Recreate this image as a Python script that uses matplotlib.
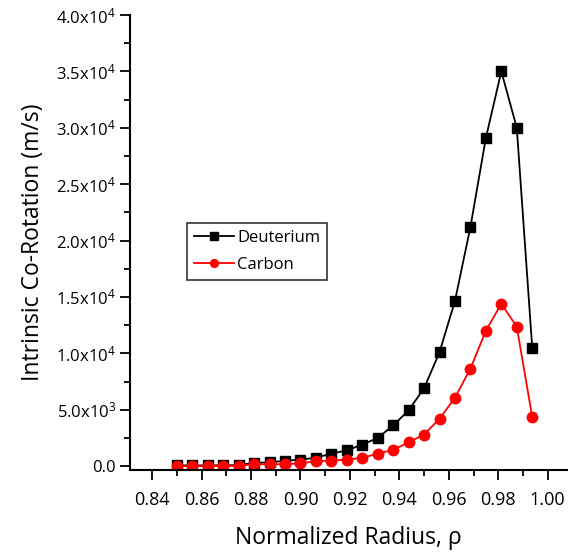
import matplotlib.pyplot as plt
from matplotlib.ticker import FixedLocator, MultipleLocator, FuncFormatter

plt.rcParams['font.family'] = ['Open Sans', 'DejaVu Sans']
plt.rcParams['mathtext.default'] = 'regular'

# normalized radius grid
rho = [0.85, 0.85625, 0.8625, 0.86875, 0.875, 0.88125, 0.8875, 0.89375,
       0.9, 0.90625, 0.9125, 0.91875, 0.925, 0.93125, 0.9375, 0.94375,
       0.95, 0.95625, 0.9625, 0.96875, 0.975, 0.98125, 0.9875, 0.99375]

# intrinsic co-rotation (m/s)
deuterium = [60, 60, 60, 70, 80, 300, 320, 480, 560, 750, 1100, 1400,
             1900, 2500, 3600, 4950, 6900, 10100, 14650, 21200, 29100,
             35000, 30000, 10500]
carbon = [0, 0, 0, 10, 20, 180, 150, 180, 230, 450, 480, 580,
          730, 1100, 1450, 2100, 2800, 4200, 6050, 8650, 12000,
          14400, 12350, 4350]

fig = plt.figure(figsize=(5.75, 5.55), dpi=100)
ax = fig.add_axes([0.226, 0.153, 0.760, 0.820])

ax.plot(rho, deuterium, color='black', marker='s', markersize=7,
        linewidth=1.3, label='Deuterium')
ax.plot(rho, carbon, color='red', marker='o', markersize=7.5,
        linewidth=1.3, label='Carbon')

ax.set_xlim(0.831, 1.0078)
ax.set_ylim(-355, 40000)

ax.spines['top'].set_visible(False)
ax.spines['right'].set_visible(False)
ax.spines['left'].set_linewidth(1.5)
ax.spines['bottom'].set_linewidth(1.5)

ax.xaxis.set_major_locator(FixedLocator([0.84, 0.86, 0.88, 0.90, 0.92,
                                         0.94, 0.96, 0.98, 1.00]))
ax.xaxis.set_minor_locator(MultipleLocator(0.01))
ax.xaxis.set_major_formatter(FuncFormatter(lambda v, p: f'{v:.2f}'))
ax.yaxis.set_major_locator(MultipleLocator(5000))
ax.yaxis.set_minor_locator(MultipleLocator(2500))


def yfmt(v, p):
    if abs(v) < 1:
        return '0.0'
    exp = 4 if v >= 10000 else 3
    return f'{v / 10 ** exp:.1f}x10$^{{{exp}}}$'


ax.yaxis.set_major_formatter(FuncFormatter(yfmt))
ax.tick_params(which='major', direction='out', length=7, width=1.3)
ax.tick_params(which='minor', direction='out', length=4, width=1.3)
ax.tick_params(axis='x', labelsize=13, pad=8)
ax.tick_params(axis='y', labelsize=12, pad=3)

ax.set_xlabel('Normalized Radius, ρ', fontsize=16.5, labelpad=12)
ax.set_ylabel('Intrinsic Co-Rotation (m/s)', fontsize=16.5, labelpad=8)

leg = ax.legend(loc='lower left', bbox_to_anchor=(0.131, 0.418),
                fontsize=12, frameon=True, fancybox=False, markerscale=0.75,
                handlelength=2.4, handletextpad=0.2, borderpad=0.4,
                labelspacing=0.7, borderaxespad=0)
leg.get_frame().set_edgecolor('black')
leg.get_frame().set_linewidth(1.2)

fig.savefig('out.png', dpi=100)
